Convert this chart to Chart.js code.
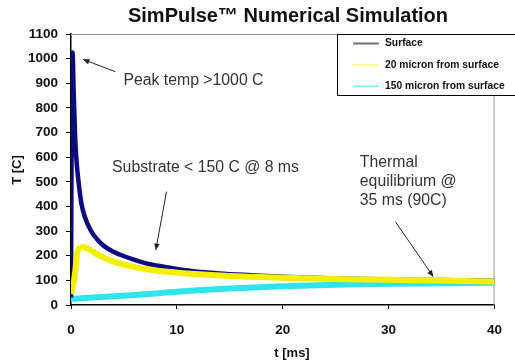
<!DOCTYPE html>
<html>
<head>
<meta charset="utf-8">
<script src="https://cdn.jsdelivr.net/npm/chart.js@4"></script>
<style>
  body { margin: 0; background: #fff; }
  #wrap { width: 515px; height: 363px; position: relative; }
</style>
</head>
<body>
<div id="wrap"><canvas id="grafico"></canvas></div>
<script>
// tempo [ms] e temperatura [C]
const tempoSuperficie = [0, 0.1, 0.15, 0.25, 0.4, 0.55, 0.7, 0.85, 1.0, 1.3, 1.9, 2.5, 3.1, 4, 4.65, 6, 7.1, 8.5, 9.6, 11.4, 14, 17, 20, 25, 30, 35, 40];
const tempSuperficie  = [30, 1000, 1025, 870, 670, 570, 505, 450, 408, 358, 300, 265, 240, 216, 204, 183, 169, 157, 149, 138, 128, 121, 115, 108, 104, 101, 98];

const tempo20 = [0, 0.2, 0.4, 0.6, 0.9, 1.2, 1.6, 2.5, 3.5, 4.5, 5.6, 7, 8.6, 11, 15, 20, 26, 30, 35, 40];
const temp20  = [45, 80, 135, 215, 232, 235, 228, 205, 185, 170, 158, 146, 137, 128, 118, 111, 105, 102, 99, 95];

const tempo150 = [0, 2, 5, 8, 11, 15, 20, 25, 30, 35, 40];
const temp150  = [25, 30, 38, 47, 57, 67, 76, 82, 86, 88, 90];

const ticksX = [0, 10, 20, 30, 40];
const ticksY = [0, 100, 200, 300, 400, 500, 600, 700, 800, 900, 1000, 1100];

const nomesSeries = ["Surface", "20 micron from surface", "150 micron from surface"];
const tituloGrafico = "SimPulse\u2122 Numerical Simulation";

const fonte = '"Liberation Sans", Arial, sans-serif';

function pontos(xs, ys) {
    return xs.map((x, i) => ({ x: x, y: ys[i] }));
}

function seta(ctx, x1, y1, x2, y2) {
    ctx.beginPath();
    ctx.moveTo(x1, y1);
    ctx.lineTo(x2, y2);
    ctx.stroke();
    const ang = Math.atan2(y2 - y1, x2 - x1);
    const tam = 7;
    ctx.beginPath();
    ctx.moveTo(x2, y2);
    ctx.lineTo(x2 - tam * Math.cos(ang - 0.4), y2 - tam * Math.sin(ang - 0.4));
    ctx.lineTo(x2 - tam * Math.cos(ang + 0.4), y2 - tam * Math.sin(ang + 0.4));
    ctx.closePath();
    ctx.fill();
}

// textos e setas em coordenadas de dados (t, T)
const anotacoes = [
    { linhas: ["Peak temp >1000 C"], t: 4.95, T: 893, de: [4.19, 947], para: [1.13, 997] },
    { linhas: ["Substrate < 150 C @ 8 ms"], t: 3.88, T: 541, de: [9.02, 460], para: [8.01, 223] },
    { linhas: ["Thermal", "equilibrium @", "35 ms (90C)"], t: 27.28, T: 561, de: [30.64, 338], para: [34.22, 115] }
];

const extras = {
    id: 'extras',
    beforeDatasetsDraw(chart) {
        const ctx = chart.ctx;
        const a = chart.chartArea;
        ctx.save();
        ctx.strokeStyle = '#9a9a9a';
        ctx.lineWidth = 1;
        ctx.beginPath();
        ctx.moveTo(a.left, a.top + 0.5);
        ctx.lineTo(a.right - 0.5, a.top + 0.5);
        ctx.lineTo(a.right - 0.5, a.bottom);
        ctx.stroke();
        ctx.restore();
    },
    afterDraw(chart) {
        const ctx = chart.ctx;
        const sx = chart.scales.x;
        const sy = chart.scales.y;
        ctx.save();

        // titulo
        ctx.fillStyle = '#111';
        ctx.font = 'bold 20px ' + fonte;
        ctx.textAlign = 'center';
        ctx.textBaseline = 'alphabetic';
        ctx.fillText(tituloGrafico, 288, 22);

        // titulos dos eixos
        ctx.font = 'bold 13px ' + fonte;
        ctx.fillText("t [ms]", 292, 357);
        ctx.save();
        ctx.translate(21, 170);
        ctx.rotate(-Math.PI / 2);
        ctx.fillText("T [C]", 0, 0);
        ctx.restore();

        // anotacoes
        ctx.textAlign = 'left';
        ctx.font = '15.8px ' + fonte;
        ctx.strokeStyle = '#222';
        ctx.fillStyle = '#333';
        ctx.lineWidth = 1;
        anotacoes.forEach(an => {
            const x = sx.getPixelForValue(an.t);
            let y = sy.getPixelForValue(an.T);
            an.linhas.forEach(l => {
                ctx.fillText(l, x, y);
                y += 19;
            });
            ctx.fillStyle = '#222';
            seta(ctx, sx.getPixelForValue(an.de[0]), sy.getPixelForValue(an.de[1]),
                 sx.getPixelForValue(an.para[0]), sy.getPixelForValue(an.para[1]));
            ctx.fillStyle = '#333';
        });

        // legenda
        const lx = 337.5, ly = 34.5;
        ctx.fillStyle = '#fff';
        ctx.fillRect(lx, ly, 180, 61);
        ctx.strokeStyle = '#000';
        ctx.lineWidth = 1;
        ctx.strokeRect(lx, ly, 180, 61);
        const coresLegenda = ['#6a6a8c', '#ffff88', '#88ffff'];
        ctx.font = 'bold 10.3px ' + fonte;
        ctx.textBaseline = 'middle';
        nomesSeries.forEach((nome, i) => {
            const yy = 43.5 + i * 21.3;
            ctx.strokeStyle = coresLegenda[i];
            ctx.lineWidth = 2;
            ctx.beginPath();
            ctx.moveTo(353, yy);
            ctx.lineTo(379, yy);
            ctx.stroke();
            ctx.fillStyle = '#111';
            ctx.fillText(nome, 385, yy);
        });
        ctx.restore();
    }
};

new Chart(document.getElementById("grafico"), {
    type: 'line',
    data: {
        datasets: [
            {
                label: nomesSeries[0],
                data: pontos(tempoSuperficie, tempSuperficie),
                borderColor: '#0c0c80',
                borderWidth: 4.5,
                pointRadius: 0,
                cubicInterpolationMode: 'monotone',
                order: 1
            },
            {
                label: nomesSeries[1],
                data: pontos(tempo20, temp20),
                borderColor: '#f2f000',
                borderWidth: 6,
                pointRadius: 0,
                cubicInterpolationMode: 'monotone',
                order: 0
            },
            {
                label: nomesSeries[2],
                data: pontos(tempo150, temp150),
                borderColor: '#30e4ee',
                borderWidth: 6,
                pointRadius: 0,
                cubicInterpolationMode: 'monotone',
                order: 2
            }
        ]
    },
    options: {
        responsive: true,
        maintainAspectRatio: false,
        animation: false,
        layout: { padding: { left: 0, right: 8, top: 34, bottom: 0 } },
        plugins: {
            legend: { display: false },
            tooltip: { enabled: false },
            title: { display: false }
        },
        scales: {
            x: {
                type: 'linear',
                min: 0,
                max: 40,
                afterFit(scale) { scale.height = 58; },
                afterBuildTicks(scale) { scale.ticks = ticksX.map(v => ({ value: v })); },
                grid: { drawOnChartArea: false, drawTicks: true, tickLength: 4, color: '#000' },
                border: { display: true, color: '#000', width: 1.5 },
                ticks: { color: '#111', font: { family: fonte, size: 13.5, weight: 'bold' }, padding: 13, maxRotation: 0, callback: v => String(v) }
            },
            y: {
                min: 0,
                max: 1100,
                afterFit(scale) { scale.width = 71; },
                afterBuildTicks(scale) { scale.ticks = ticksY.map(v => ({ value: v })); },
                grid: { drawOnChartArea: false, drawTicks: true, tickLength: 5, color: '#000' },
                border: { display: true, color: '#000', width: 1.5 },
                ticks: { color: '#111', font: { family: fonte, size: 13.5, weight: 'bold' }, padding: 8, callback: v => String(v) }
            }
        }
    },
    plugins: [extras]
});
</script>
</body>
</html>
